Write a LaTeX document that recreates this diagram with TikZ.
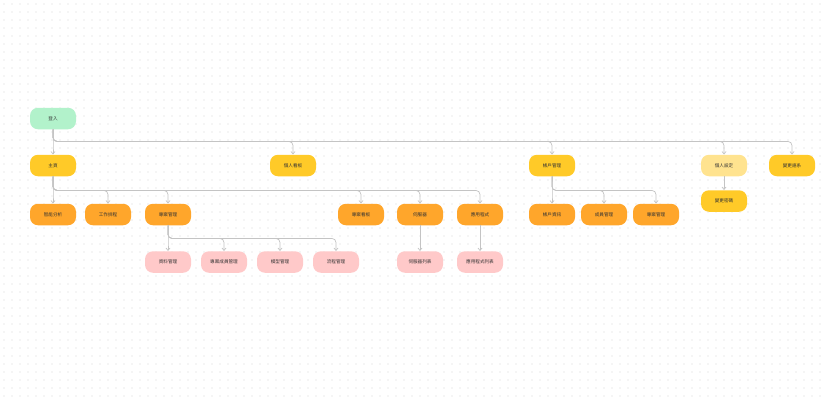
\documentclass[tikz,border=0pt]{standalone}
\usepackage{fontspec}
\setmainfont{Noto Sans CJK TC}
\usetikzlibrary{arrows.meta}
\definecolor{cgreen}{HTML}{B2F2CB}
\definecolor{cyellow}{HTML}{FFCA28}
\definecolor{clyellow}{HTML}{FFE38F}
\definecolor{corange}{HTML}{FFA62B}
\definecolor{cpink}{HTML}{FFC9C9}
\definecolor{cline}{HTML}{C4C4C4}
\definecolor{cdot}{HTML}{D4D4D4}
\definecolor{ctext}{HTML}{333333}
\tikzset{
  box/.style={rounded corners=8pt, minimum width=46pt, minimum height=21.5pt, inner sep=0pt,
    font=\fontsize{4.6pt}{5pt}\selectfont, text=ctext},
  greenbox/.style={box, fill=cgreen},
  yellowbox/.style={box, fill=cyellow},
  lyellowbox/.style={box, fill=clyellow},
  orangebox/.style={box, fill=corange},
  pinkbox/.style={box, fill=cpink},
  conn/.style={draw=cline, line width=0.7pt, rounded corners=4pt,
    -{Straight Barb[length=2.5pt,width=4pt]}}
}
\begin{document}
\begin{tikzpicture}[x=1pt,y=-1pt]
\useasboundingbox[fill=white] (0,0) rectangle (825,400);
\foreach \i in {4,12,...,820}{
  \foreach \j in {4,12,...,396}{
    \fill[cdot] (\i,\j) circle (0.55pt);
  }
}
% level 0
\node[greenbox] (login) at (53,118.5) {登入};
% level 1
\node[yellowbox] (home) at (53,165.5) {主頁};
\node[yellowbox] (pdash) at (293,165.5) {個人看板};
\node[yellowbox] (acct) at (552,165.5) {帳戶管理};
\node[lyellowbox] (pset) at (724,165.5) {個人設定};
\node[yellowbox] (lang) at (792,165.5) {變更語系};
% level 2
\node[orangebox] (ana) at (53,214.5) {智能分析};
\node[orangebox] (job) at (108,214.5) {工作排程};
\node[orangebox] (proj) at (168,214.5) {專案管理};
\node[orangebox] (prdash) at (361,214.5) {專案看板};
\node[orangebox] (srv) at (420,214.5) {伺服器};
\node[orangebox] (app) at (480,214.5) {應用程式};
\node[orangebox] (ainfo) at (552,214.5) {帳戶資訊};
\node[orangebox] (mem) at (604,214.5) {成員管理};
\node[orangebox] (proj2) at (656,214.5) {專案管理};
\node[yellowbox] (pwd) at (724,201) {變更密碼};
% level 3
\node[pinkbox] (data) at (168,262) {資料管理};
\node[pinkbox] (pmem) at (224,262) {專案成員管理};
\node[pinkbox] (model) at (280,262) {模型管理};
\node[pinkbox] (flow) at (336,262) {流程管理};
\node[pinkbox] (srvl) at (420,262) {伺服器列表};
\node[pinkbox] (appl) at (480,262) {應用程式列表};
% connectors
\foreach \t in {home,pdash,acct,pset,lang}
  \draw[conn] (login.south) -- ++(0,12) -| (\t.north);
\foreach \t in {ana,job,proj,prdash,srv,app}
  \draw[conn] (home.south) -- ++(0,14) -| (\t.north);
\foreach \t in {ainfo,mem,proj2}
  \draw[conn] (acct.south) -- ++(0,14) -| (\t.north);
\foreach \t in {data,pmem,model,flow}
  \draw[conn] (proj.south) -- ++(0,13) -| (\t.north);
\draw[conn] (pset.south) -- (pwd.north);
\draw[conn] (srv.south) -- (srvl.north);
\draw[conn] (app.south) -- (appl.north);
\end{tikzpicture}
\end{document}
